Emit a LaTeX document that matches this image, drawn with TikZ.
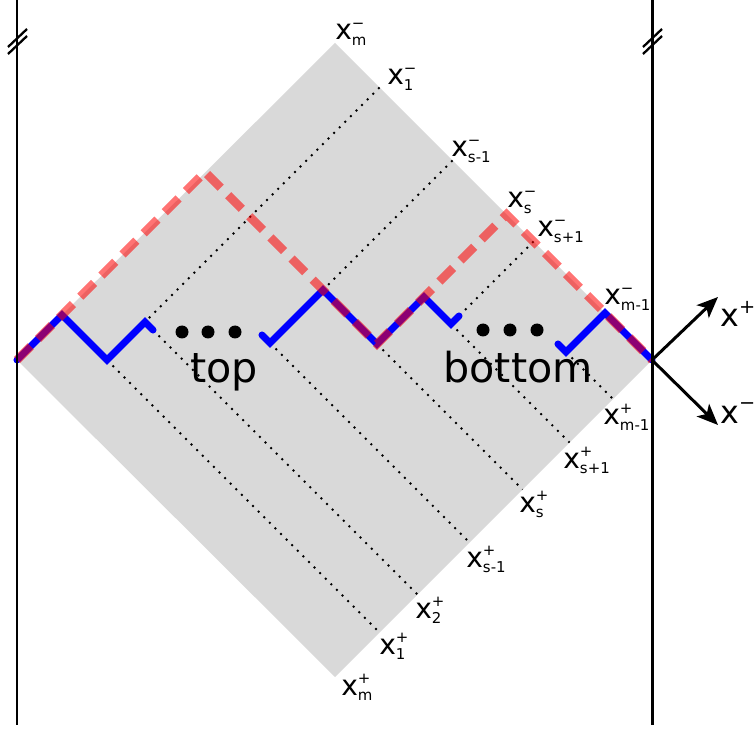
\documentclass[tikz,border=0pt]{standalone}
\usepackage{fontspec}
\setmainfont{DejaVu Sans}
\usetikzlibrary{arrows.meta}
\newcommand{\subf}{\fontsize{8.5}{8.5}\selectfont}
\newcommand{\supf}{\fontsize{11}{11}\selectfont}
\newcommand{\xlab}[2]{x\makebox[0pt][l]{\raisebox{0.4em}{\subf #1}}\raisebox{-0.18em}{\subf #2}}
\newcommand{\xdir}[1]{x\raisebox{0.42em}{\supf #1}}
\begin{document}
\begin{tikzpicture}[x=0.02cm,y=-0.02cm,
  wall/.style={line width=1.7pt},
  slash/.style={line width=1.3pt},
  dotline/.style={line width=1.1pt, dash pattern=on 1.1pt off 3.4pt},
  bluepath/.style={blue, line width=4pt, line cap=round, line join=miter},
  redpath/.style={red, opacity=0.55, line width=5pt, dash pattern=on 11pt off 6pt},
  lab/.style={inner sep=0pt, anchor=base west, font=\fontsize{16}{16}\selectfont},
  biglab/.style={inner sep=0pt, anchor=base west, font=\fontsize{18}{18}\selectfont},
  word/.style={inner sep=0pt, anchor=base west, font=\fontsize{23.5}{23.5}\selectfont},
  axisarrow/.style={line width=1.7pt, -{Stealth[length=12pt,width=10pt,inset=3pt]}},
  dotmark/.style={circle, fill=black, inner sep=0pt, minimum size=0.26cm}]
\useasboundingbox (0,0) rectangle (754,729);

% diamond
\coordinate (L) at (17,360);
\coordinate (T) at (335,43);
\coordinate (R) at (652,360);
\coordinate (B) at (335,677);
\fill[black!15] (L) -- (T) -- (R) -- (B) -- cycle;

% path points
\coordinate (b2) at (62,315);
\coordinate (b3) at (107,360);
\coordinate (b4) at (145,322);
\coordinate (b5) at (153,330);
\coordinate (c1) at (262,335);
\coordinate (c2) at (270,343);
\coordinate (c3) at (323,290);
\coordinate (c4) at (377,344);
\coordinate (c5) at (424,297);
\coordinate (c6) at (451,324);
\coordinate (c7) at (459,316);
\coordinate (d1) at (558,344);
\coordinate (d2) at (566,352);
\coordinate (d3) at (605,313);
\coordinate (rp) at (205,172);
\coordinate (rs) at (506.5,214.5);

% edge points
\coordinate (e1m) at (379.5,87.5);
\coordinate (esm1m) at (452.5,160.5);
\coordinate (esp1m) at (533.5,241.5);
\coordinate (e1p) at (379.5,632.5);
\coordinate (e2p) at (417.5,594.5);
\coordinate (esm1p) at (469.5,542.5);
\coordinate (esp) at (522.5,489.5);
\coordinate (esp1p) at (569.5,442.5);
\coordinate (emm1p) at (613,399);

% dotted lines
\draw[dotline] (e1m) -- (b4);
\draw[dotline] (esm1m) -- (c3);
\draw[dotline] (esp1m) -- (c7);
\draw[dotline] (b3) -- (e1p);
\draw[dotline] (b5) -- (e2p);
\draw[dotline] (c2) -- (esm1p);
\draw[dotline] (c4) -- (esp);
\draw[dotline] (c6) -- (esp1p);
\draw[dotline] (d2) -- (emm1p);

% blue paths
\draw[bluepath] (L) -- (b2) -- (b3) -- (b4) -- (b5);
\draw[bluepath] (c1) -- (c2) -- (c3) -- (c4) -- (c5) -- (c6) -- (c7);
\draw[bluepath] (d1) -- (d2) -- (d3) -- (R);

% red dashed path
\draw[redpath] (L) -- (rp) -- (c3) -- (c4) -- (rs) -- (R);

% walls
\coordinate (wl1) at (17,0);
\coordinate (wl2) at (17,725);
\coordinate (wr1) at (652,0);
\coordinate (wr2) at (652,725);
\draw[wall] (wl1) -- (wl2);
\draw[wall] (wr1) -- (wr2);
\draw[slash] (8,47) -- (27,29);
\draw[slash] (8,54) -- (27,36);
\draw[slash] (643,47) -- (662,29);
\draw[slash] (643,54) -- (662,36);

% axes
\coordinate (tp) at (718,297);
\coordinate (tm) at (718,425);
\draw[axisarrow] (R) -- (tp);
\draw[axisarrow] (R) -- (tm);
\node[biglab] (xplus) at (720,327) {\xdir{+}};
\node[biglab] (xminus) at (720,423) {\xdir{−}};

% dots
\node[dotmark] (dl1) at (182,332) {};
\node[dotmark] (dl2) at (208,332) {};
\node[dotmark] (dl3) at (235,332) {};
\node[dotmark] (dr1) at (483,330) {};
\node[dotmark] (dr2) at (510,330) {};
\node[dotmark] (dr3) at (537,330) {};

% words
\node[word] (top) at (190,383) {top};
\node[word] (bottom) at (443,383) {bottom};

% labels
\node[lab] (lmm) at (335,40) {\xlab{−}{m}};
\node[lab] (l1m) at (387,85) {\xlab{−}{1}};
\node[lab] (lsm1m) at (451,157) {\xlab{−}{s-1}};
\node[lab] (lsm) at (507,208) {\xlab{−}{s}};
\node[lab] (lsp1m) at (537,237) {\xlab{−}{s+1}};
\node[lab] (lmm1m) at (604,305) {\xlab{−}{m-1}};
\node[lab] (lmm1p) at (603,425) {\xlab{+}{m-1}};
\node[lab] (lsp1p) at (563,468) {\xlab{+}{s+1}};
\node[lab] (lsp) at (519,512) {\xlab{+}{s}};
\node[lab] (lsm1p) at (466,567) {\xlab{+}{s-1}};
\node[lab] (l2p) at (415,618) {\xlab{+}{2}};
\node[lab] (l1p) at (379,654) {\xlab{+}{1}};
\node[lab] (lmp) at (341,695) {\xlab{+}{m}};
\end{tikzpicture}
\end{document}
